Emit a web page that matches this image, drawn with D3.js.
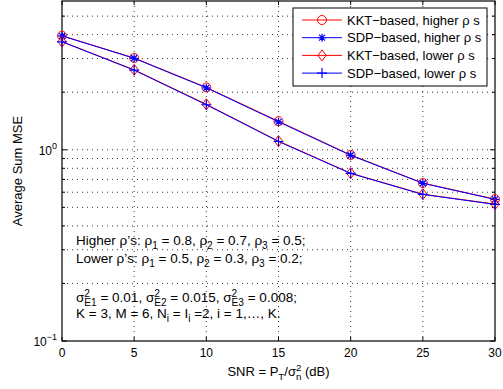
<!DOCTYPE html>
<html>
<head>
<meta charset="UTF-8">
<script src="https://d3js.org/d3.v7.min.js"></script>
<style>
  body { margin: 0; background: #fff; }
  svg { font-family: "Liberation Sans", Arial, Helvetica, sans-serif; }
  .grid line { stroke: #000; stroke-width: 0.8; stroke-dasharray: 1,4; }
</style>
</head>
<body>
<svg id="chart" width="503" height="389"></svg>
<script>
// data
const snr = [0, 5, 10, 15, 20, 25, 30];
const kktHigh = [3.95, 3.02, 2.12, 1.41, 0.94, 0.67, 0.552];
const sdpHigh = [3.94, 3.01, 2.11, 1.40, 0.936, 0.668, 0.55];
const kktLow = [3.68, 2.62, 1.73, 1.11, 0.755, 0.586, 0.52];
const sdpLow = [3.67, 2.61, 1.72, 1.105, 0.752, 0.584, 0.518];
const xTicks = [0, 5, 10, 15, 20, 25, 30];
const yMajor = [0.1, 1];
const yMinor = [0.2, 0.3, 0.4, 0.5, 0.6, 0.7, 0.8, 0.9, 2, 3, 4, 5];
const yExp = ["\u22121", "0"];

const L = 62, R = 495, T = 1, B = 341;
const svg = d3.select("#chart");

const x = d3.scaleLinear().domain([0, 30]).range([L, R]);
const y = d3.scaleLog().domain([0.1, 6]).range([B, T]);

// grid
const grid = svg.append("g").attr("class", "grid");
grid.selectAll(".gx").data(xTicks.slice(1, -1)).enter().append("line")
  .attr("x1", d => x(d)).attr("x2", d => x(d)).attr("y1", T).attr("y2", B);
grid.selectAll(".gy").data(yMinor.concat([1])).enter().append("line")
  .attr("x1", L).attr("x2", R).attr("y1", d => y(d)).attr("y2", d => y(d));

// ticks (inside, both sides)
const tk = svg.append("g").attr("stroke", "#000").attr("stroke-width", 1);
xTicks.forEach(d => {
  tk.append("line").attr("x1", x(d)).attr("x2", x(d)).attr("y1", B).attr("y2", B - 4);
  tk.append("line").attr("x1", x(d)).attr("x2", x(d)).attr("y1", T).attr("y2", T + 4);
});
yMajor.concat(yMinor).forEach(d => {
  const len = yMajor.includes(d) ? 5 : 3;
  tk.append("line").attr("x1", L).attr("x2", L + len).attr("y1", y(d)).attr("y2", y(d));
  tk.append("line").attr("x1", R).attr("x2", R - len).attr("y1", y(d)).attr("y2", y(d));
});

// frame
svg.append("rect").attr("x", L).attr("y", T).attr("width", R - L).attr("height", B - T)
  .attr("fill", "none").attr("stroke", "#000").attr("stroke-width", 1.2);

// tick labels
svg.append("g").selectAll("text").data(xTicks).enter().append("text")
  .attr("x", d => x(d)).attr("y", B + 16).attr("text-anchor", "middle")
  .attr("font-size", 12).text(d => d);

yMajor.forEach((d, i) => {
  const t = svg.append("text").attr("x", L - 5).attr("y", y(d) + 5)
    .attr("text-anchor", "end").attr("font-size", 12);
  t.append("tspan").text("10");
  t.append("tspan").attr("dy", -6).attr("font-size", 9).text(yExp[i]);
});

// series
const series = [
  { name: "KKT\u2212based, higher \u03c1 s", vals: kktHigh, color: "#ff0000", marker: "circle" },
  { name: "SDP\u2212based, higher \u03c1 s", vals: sdpHigh, color: "#0000ff", marker: "star" },
  { name: "KKT\u2212based, lower \u03c1 s", vals: kktLow, color: "#ff0000", marker: "diamond" },
  { name: "SDP\u2212based, lower \u03c1 s", vals: sdpLow, color: "#0000ff", marker: "plus" }
];

function drawMarker(g, type, cx, cy, color) {
  if (type === "circle") {
    g.append("circle").attr("cx", cx).attr("cy", cy).attr("r", 4.5)
      .attr("fill", "none").attr("stroke", color).attr("stroke-width", 1);
  } else if (type === "diamond") {
    const s = 5.5;
    g.append("path").attr("d", `M${cx},${cy - s}L${cx + s * 0.75},${cy}L${cx},${cy + s}L${cx - s * 0.75},${cy}Z`)
      .attr("fill", "none").attr("stroke", color).attr("stroke-width", 1);
  } else if (type === "plus") {
    const s = 5;
    g.append("path").attr("d", `M${cx - s},${cy}H${cx + s}M${cx},${cy - s}V${cy + s}`)
      .attr("stroke", color).attr("stroke-width", 1.2);
  } else if (type === "star") {
    const s = 4, d = 3;
    g.append("path").attr("d", `M${cx - s},${cy}H${cx + s}M${cx},${cy - s}V${cy + s}M${cx - d},${cy - d}L${cx + d},${cy + d}M${cx - d},${cy + d}L${cx + d},${cy - d}`)
      .attr("stroke", color).attr("stroke-width", 1.2);
  }
}

const line = d3.line().x((d, i) => x(snr[i])).y(d => y(d));
series.forEach(s => {
  const g = svg.append("g");
  g.append("path").datum(s.vals).attr("d", line)
    .attr("fill", "none").attr("stroke", s.color).attr("stroke-width", 1);
  s.vals.forEach((v, i) => drawMarker(g, s.marker, x(snr[i]), y(v), s.color));
});

// legend
const lg = svg.append("g");
lg.append("rect").attr("x", 293).attr("y", 8).attr("width", 194).attr("height", 78)
  .attr("fill", "#fff").attr("stroke", "#000").attr("stroke-width", 1);
series.forEach((s, i) => {
  const cy = 20 + i * 17.7;
  lg.append("line").attr("x1", 302).attr("x2", 342).attr("y1", cy).attr("y2", cy)
    .attr("stroke", s.color).attr("stroke-width", 1);
  drawMarker(lg, s.marker, 322, cy, s.color);
  lg.append("text").attr("x", 347).attr("y", cy + 4.5).attr("font-size", 13).text(s.name);
});

// annotation text with sub/superscripts, each piece on its own baseline
function rich(xp, yp, parts, fs = 13) {
  const sfs = fs * 0.75;
  const t = svg.append("text").attr("x", xp).attr("y", yp).attr("font-size", fs);
  parts.forEach((p, i) => {
    if (typeof p === "string") {
      const sp = t.append("tspan").attr("y", yp).text(p);
      if (i === 0) sp.attr("x", xp);
    } else if (p.sup !== undefined && p.sub !== undefined) {
      const sup = t.append("tspan").attr("y", yp - 5).attr("font-size", sfs).text(p.sup);
      const w = sup.node().getComputedTextLength();
      t.append("tspan").attr("y", yp + 4).attr("dx", -w).attr("font-size", sfs).text(p.sub);
    } else {
      t.append("tspan").attr("y", yp + 4).attr("font-size", sfs).text(p.sub);
    }
  });
  return t;
}
rich(76, 245, ["Higher \u03c1\u2019s: \u03c1", { sub: "1" }, " = 0.8, \u03c1", { sub: "2" }, " = 0.7, \u03c1", { sub: "3" }, " = 0.5;"], 13.5);
rich(76, 263, ["Lower \u03c1\u2019s:  \u03c1", { sub: "1" }, " = 0.5, \u03c1", { sub: "2" }, " = 0.3, \u03c1", { sub: "3" }, " = 0.2;"], 13.5);
rich(76, 302, ["\u03c3", { sup: "2", sub: "E1" }, " = 0.01, \u03c3", { sup: "2", sub: "E2" }, " = 0.015,  \u03c3", { sup: "2", sub: "E3" }, " = 0.008;"], 13.5);
rich(76, 318, ["K = 3, M = 6, N", { sub: "i" }, " = I", { sub: "i" }, " =2, i = 1,\u2026, K."], 13.5);

// axis labels
const xl = rich(0, 376, ["SNR = P", { sub: "T" }, "/\u03c3", { sup: "2", sub: "n" }, " (dB)"]);
const bb = xl.node().getBBox();
xl.attr("x", (L + R) / 2 - bb.width / 2);
xl.select("tspan").attr("x", (L + R) / 2 - bb.width / 2);

svg.append("text").attr("transform", `translate(22,${(T + B) / 2}) rotate(-90)`)
  .attr("text-anchor", "middle").attr("font-size", 13).text("Average Sum MSE");
</script>
</body>
</html>
